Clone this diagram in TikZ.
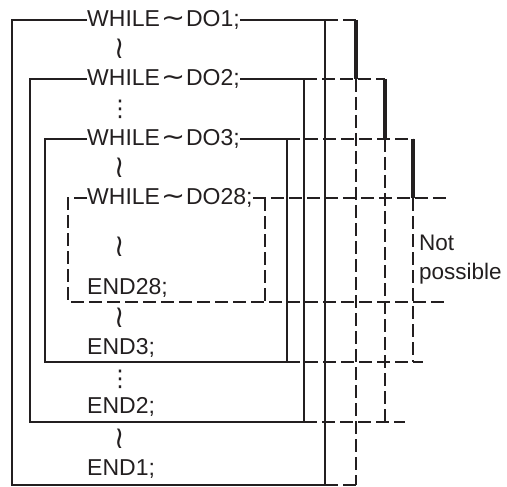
\documentclass[tikz,border=0pt]{standalone}
\usepackage{fontspec}
\setmainfont{Liberation Sans}
\newfontfamily\symf{DejaVu Sans}
\usepackage{graphicx}
\usepackage{tikz}
\definecolor{ink}{HTML}{231F20}
\newcommand{\wv}{\kern1pt\scalebox{1.25}[1.1]{\symf ∼}\kern1pt}
\newcommand{\sq}{\scalebox{1.2}[1.35]{\symf ≀}}
\tikzset{ln/.style={line width=1.2pt,ink},dsh/.style={line width=1.2pt,ink,dash pattern=on 13pt off 5pt},
  thk/.style={line width=3.5pt,ink},txt/.style={inner sep=0pt,ink,font=\fontsize{23}{28}\selectfont}}

\begin{document}
\begin{tikzpicture}[x=1pt,y=-1pt]
\useasboundingbox (0,0) rectangle (507,487);
% statements
\node[txt,anchor=west] (w1) at (87,20) {WHILE\wv DO1;}; \node[txt,anchor=west] (w2) at (87,79) {WHILE\wv DO2;};
\node[txt,anchor=west] (w3) at (87,139) {WHILE\wv DO3;}; \node[txt,anchor=west] (w28) at (87,198) {WHILE\wv DO28;};
\node[txt,anchor=west] (e28) at (87,288) {END28;}; \node[txt,anchor=west] (e3) at (87,348) {END3;};
\node[txt,anchor=west] (e2) at (87,407) {END2;}; \node[txt,anchor=west] (e1) at (87,469) {END1;};
\node[txt] (s1) at (120,49) {\sq}; \node[txt] (d1) at (120,109) {\symf ⋮}; \node[txt] (s2) at (120,168) {\sq};
\node[txt] (s3) at (120,247) {\sq}; \node[txt] (s4) at (120,318) {\sq}; \node[txt] (d2) at (120,379) {\symf ⋮};
\node[txt] (s5) at (120,439) {\sq};
% loops
\draw[ln] (w1.west) -| (12,485) -| (325,20) -- (w1.east);
\draw[ln] (w2.west) -| (30,422) -| (304,79) -- (w2.east);
\draw[ln] (w3.west) -| (45,362) -| (287,139) -- (w3.east);
\draw[dsh] (w28.west) -- (68,198) -- (68,302) -- (446,302); \draw[dsh] (w28.east) -- (446,198); \draw[dsh] (265,198) -- (265,302);
% jumps
\draw[dsh] (325,20) -- (360,20); \draw[dsh] (325,485) -- (360,485);
\draw[dsh] (304,79) -- (385,79); \draw[dsh] (304,422) -- (405,422);
\draw[dsh] (287,139) -- (413,139); \draw[dsh] (287,362) -- (423,362);
\draw[thk] (356,20) -- (356,79); \draw[dsh] (356,79) -- (356,485);
\draw[thk] (385,79) -- (385,139); \draw[dsh] (385,139) -- (385,422);
\draw[thk] (413,139) -- (413,198); \draw[dsh] (413,198) -- (413,362);
\node[txt,anchor=west,align=left,font=\fontsize{22.5}{29}\selectfont] (np) at (419,260) {Not\\possible};
\end{tikzpicture}
\end{document}
